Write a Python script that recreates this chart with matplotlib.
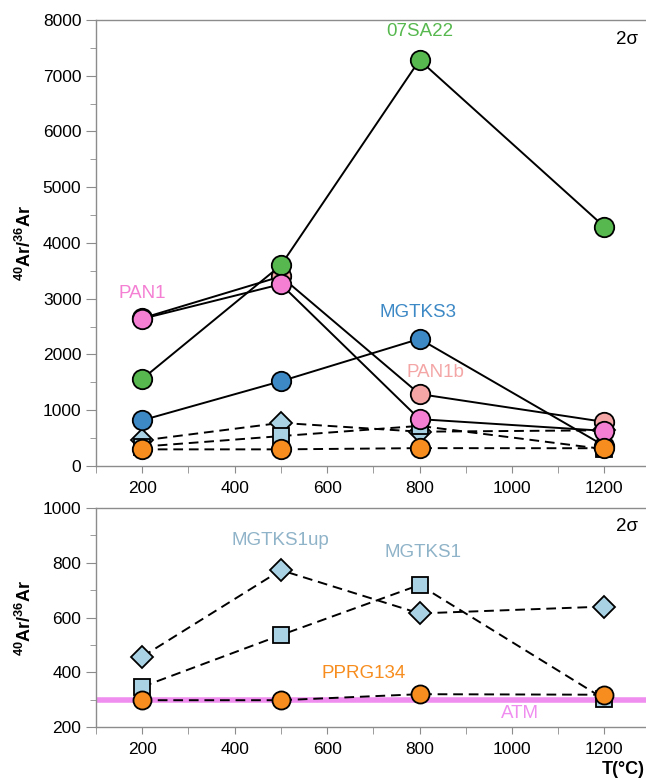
import matplotlib
matplotlib.use("Agg")
import matplotlib.pyplot as plt
from matplotlib.ticker import MultipleLocator

plt.rcParams['font.family'] = ['Liberation Sans', 'DejaVu Sans']
plt.rcParams['mathtext.fontset'] = 'custom'
plt.rcParams['mathtext.rm'] = 'Liberation Sans'
plt.rcParams['mathtext.bf'] = 'Liberation Sans:bold'

temps = [200, 500, 800, 1200]

# top panel series
sa22 = [1560, 3600, 7280, 4290]
pan1 = [2640, 3260, 840, 630]
pan1b = [2650, 3400, 1290, 790]
mgtks3 = [820, 1520, 2280, 360]
mgtks1up = [457, 773, 615, 640]
mgtks1 = [347, 536, 719, 302]
pprg134 = [298, 298, 320, 318]
atm = 298.6

green = '#57b84f'
blue = '#3d89c6'
pink = '#f47fd3'
salmon = '#f4a6a6'
lightblue = '#a9d3e4'
orange = '#f78d1e'
grey_txt = '#8fb3c8'
atm_col = '#f08ef0'

fig = plt.figure(figsize=(6.46, 7.80), dpi=100)
ax1 = fig.add_axes([0.1486, 0.4026, 0.8514, 0.5718])
ax2 = fig.add_axes([0.1486, 0.0679, 0.8514, 0.2808])

edge = dict(markeredgecolor='black', markeredgewidth=1.3)
solid = dict(color='black', lw=1.4)
dashed = dict(color='black', lw=1.4, ls=(0, (5, 3)))

# top panel
ax1.plot(temps, mgtks1up, marker='D', ms=11, mfc=lightblue, **edge, **dashed)
ax1.plot(temps, mgtks1, marker='s', ms=12, mfc=lightblue, **edge, **dashed)
ax1.plot(temps, mgtks3, marker='o', ms=14, mfc=blue, **edge, **solid)
ax1.plot(temps, pan1b, marker='o', ms=14, mfc=salmon, **edge, **solid)
ax1.plot(temps, sa22, marker='o', ms=14, mfc=green, **edge, **solid)
ax1.plot(temps, pan1, marker='o', ms=14, mfc=pink, **edge, **solid)
ax1.plot(temps, pprg134, marker='o', ms=14, mfc=orange, **edge, **dashed)

lab = dict(fontsize=13.5, ha='center', va='center')
ax1.text(800, 7790, '07SA22', color=green, **lab)
ax1.text(200, 3100, 'PAN1', color=pink, **lab)
ax1.text(797, 2760, 'MGTKS3', color=blue, **lab)
ax1.text(834, 1670, 'PAN1b', color=salmon, **lab)
ax1.text(0.985, 0.975, '2σ', transform=ax1.transAxes, fontsize=13.5, ha='right', va='top')

ax1.set_ylim(0, 8000)
ax1.yaxis.set_major_locator(MultipleLocator(1000))
ax1.yaxis.set_minor_locator(MultipleLocator(500))

# bottom panel
ax2.axhline(atm, color=atm_col, lw=4, zorder=1)
ax2.plot(temps, mgtks1up, marker='D', ms=11, mfc=lightblue, **edge, **dashed)
ax2.plot(temps, mgtks1, marker='s', ms=12, mfc=lightblue, **edge, **dashed)
ax2.plot(temps, pprg134, marker='o', ms=13, mfc=orange, **edge, **dashed)

ax2.text(498, 880, 'MGTKS1up', color=grey_txt, **lab)
ax2.text(807, 836, 'MGTKS1', color=grey_txt, **lab)
ax2.text(678, 397, 'PPRG134', color=orange, **lab)
ax2.text(1017, 250, 'ATM', color=atm_col, **lab)
ax2.text(0.985, 0.955, '2σ', transform=ax2.transAxes, fontsize=13.5, ha='right', va='top')

ax2.set_ylim(200, 1000)
ax2.yaxis.set_major_locator(MultipleLocator(200))
ax2.yaxis.set_minor_locator(MultipleLocator(100))

for ax in (ax1, ax2):
    ax.set_xlim(100, 1290)
    ax.xaxis.set_major_locator(MultipleLocator(200))
    ax.xaxis.set_minor_locator(MultipleLocator(100))
    ax.set_xticks([200, 400, 600, 800, 1000, 1200])
    ax.spines['right'].set_visible(False)
    for s in ax.spines.values():
        s.set_color('#8c8c8c')
        s.set_linewidth(1.0)
    ax.tick_params(which='both', direction='out', color='#8c8c8c', labelsize=12.5)
    ax.tick_params(which='major', length=7)
    ax.tick_params(which='minor', length=4)
    ax.tick_params(axis='x', which='both', length=5, pad=6)
    ax.set_ylabel(r'$\mathbf{^{40}Ar/^{36}Ar}$', fontsize=13)
    ax.yaxis.set_label_coords(-0.11, 0.5)

fig.text(0.998, 0.002, 'T(°C)', fontsize=13, fontweight='bold', ha='right', va='bottom')

fig.savefig('out.png', dpi=100)
